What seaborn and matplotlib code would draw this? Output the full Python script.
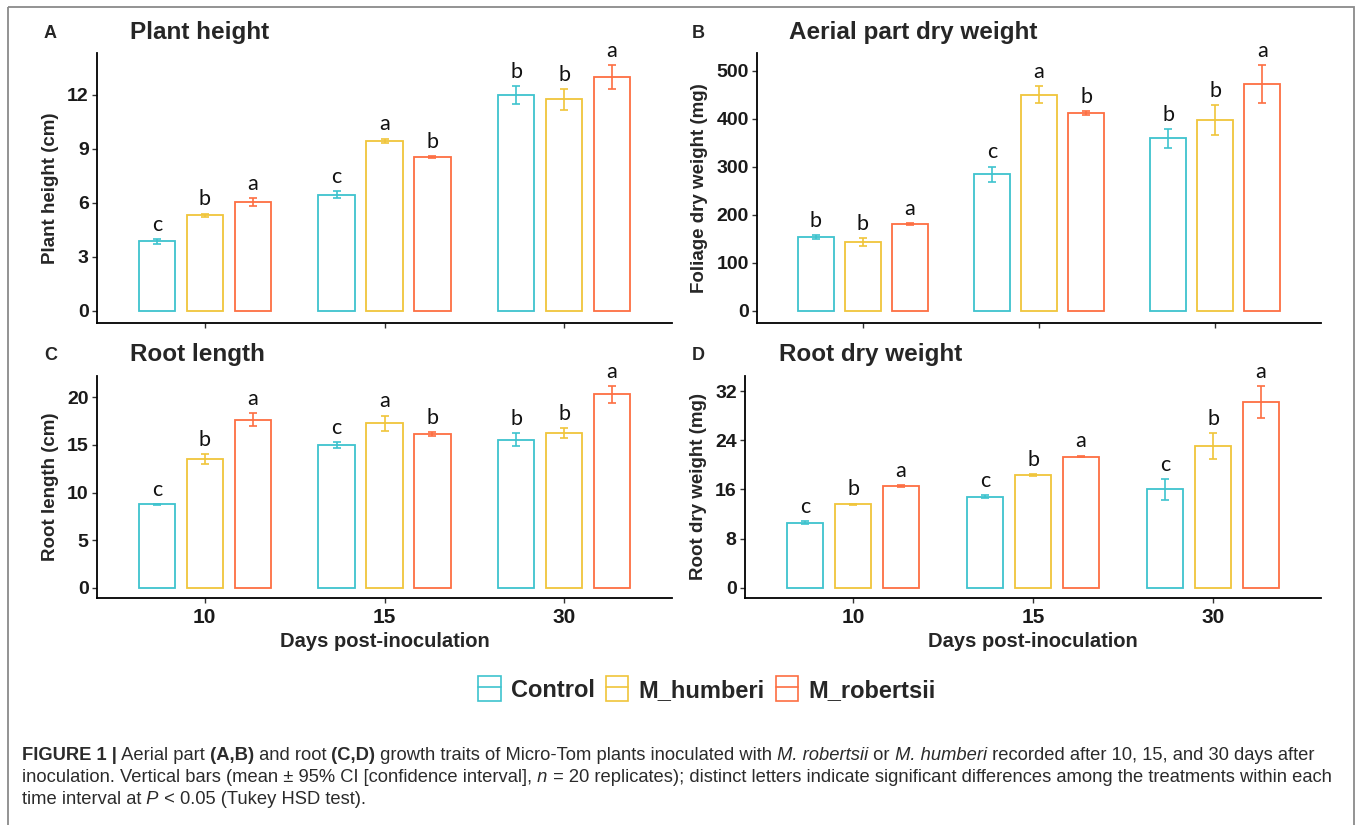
import matplotlib
matplotlib.use("Agg")
import matplotlib.pyplot as plt
from matplotlib.patches import Patch, Rectangle
from matplotlib.lines import Line2D
from matplotlib.legend_handler import HandlerTuple
import seaborn as sns
import pandas as pd

# categories
days = ['10', '15', '30']
groups = ['Control', 'M_humberi', 'M_robertsii']
colors = ['#3EC3CE', '#F0C53A', '#FD6E42']

# rows: Control, M_humberi, M_robertsii / cols: 10, 15, 30 days
height_mean = [[3.85, 6.45, 12.0], [5.3, 9.45, 11.75], [6.05, 8.55, 13.0]]
height_ci = [[0.15, 0.2, 0.5], [0.1, 0.12, 0.58], [0.2, 0.04, 0.65]]
height_letters = [['c', 'c', 'b'], ['b', 'a', 'b'], ['a', 'b', 'a']]

foliage_mean = [[153, 284, 359], [143, 450, 397], [180, 412, 472]]
foliage_ci = [[4, 16, 20], [8.5, 18, 31], [2, 4, 39]]
foliage_letters = [['b', 'c', 'b'], ['b', 'a', 'b'], ['a', 'b', 'a']]

rootlen_mean = [[8.75, 15.0, 15.55], [13.55, 17.25, 16.25], [17.65, 16.15, 20.3]]
rootlen_ci = [[0.08, 0.3, 0.7], [0.5, 0.83, 0.55], [0.7, 0.2, 0.87]]
rootlen_letters = [['c', 'c', 'b'], ['b', 'a', 'b'], ['a', 'b', 'a']]

rootdw_mean = [[10.6, 14.85, 16.0], [13.6, 18.3, 23.0], [16.5, 21.35, 30.2]]
rootdw_ci = [[0.2, 0.2, 1.65], [0.1, 0.15, 2.1], [0.15, 0.15, 2.6]]
rootdw_letters = [['c', 'c', 'c'], ['b', 'b', 'b'], ['a', 'a', 'a']]

height_ticks = [0, 3, 6, 9, 12]
foliage_ticks = [0, 100, 200, 300, 400, 500]
rootlen_ticks = [0, 5, 10, 15, 20]
rootdw_ticks = [0, 8, 16, 24, 32]

sns.set_theme(style='ticks')
plt.rcParams['font.family'] = ['Liberation Sans Narrow', 'Liberation Sans', 'DejaVu Sans']

W, H = 1358, 825
fig = plt.figure(figsize=(W / 100, H / 100), dpi=100)


def px_axes(left, right, top, bottom):
    return fig.add_axes([left / W, 1 - bottom / H, (right - left) / W, (bottom - top) / H])


def to_long(mean, ci, letters):
    rows = []
    for i, g in enumerate(groups):
        for j, d in enumerate(days):
            rows.append({'group': g, 'day': d, 'value': mean[i][j],
                         'ci': ci[i][j], 'letter': letters[i][j]})
    return pd.DataFrame(rows)


def panel(ax, mean, ci, letters, ticks, ylabel, show_x):
    df = to_long(mean, ci, letters)
    sns.barplot(data=df, x='day', y='value', hue='group', order=days,
                hue_order=groups, palette=colors, fill=False, gap=0.24,
                linewidth=1.3, errorbar=None, legend=False, ax=ax)
    bar_conts = list(ax.containers)
    for gi, cont in enumerate(bar_conts):
        for bar in cont.patches:
            xc = bar.get_x() + bar.get_width() / 2
            d = days[int(round(xc))]
            row = df[(df.group == groups[gi]) & (df.day == d)].iloc[0]
            ax.errorbar(xc, bar.get_height(), yerr=row.ci, color=colors[gi],
                        capsize=3.2, elinewidth=1.2, capthick=1.2, fmt='none')
            ax.annotate(row.letter, (xc, row.value + row.ci), xytext=(0, 3),
                        textcoords='offset points', ha='center', va='bottom',
                        fontsize=15.5, family=['Lato', 'DejaVu Sans'],
                        color='#111111', annotation_clip=False)
    top = (df.value + df.ci).max()
    ax.set_ylim(-0.05 * top, 1.05 * top)
    ax.set_xlim(-0.6, 2.6)
    ax.set_yticks(ticks)
    sns.despine(ax=ax)
    for s in ['left', 'bottom']:
        ax.spines[s].set_linewidth(1.3)
        ax.spines[s].set_color('black')
    ax.tick_params(axis='both', length=3.5, width=1.0, color='#333333', pad=2.5)
    ax.tick_params(axis='y', labelsize=14)
    ax.tick_params(axis='x', labelsize=15, pad=4)
    for lab in ax.get_yticklabels() + ax.get_xticklabels():
        lab.set_fontweight('bold')
        lab.set_color('#1a1a1a')
    ax.set_ylabel(ylabel, fontsize=13.5, fontweight='bold', labelpad=6)
    if show_x:
        ax.set_xlabel('Days post-inoculation', fontsize=14.5, fontweight='bold', labelpad=3)
    else:
        ax.set_xlabel('')
        ax.set_xticklabels([])


axA = px_axes(97, 672, 53, 323)
axB = px_axes(757, 1321, 53, 323)
axC = px_axes(97, 672, 376, 598)
axD = px_axes(745, 1321, 376, 598)

panel(axA, height_mean, height_ci, height_letters, height_ticks, 'Plant height (cm)', False)
panel(axB, foliage_mean, foliage_ci, foliage_letters, foliage_ticks, 'Foliage dry weight (mg)', False)
panel(axC, rootlen_mean, rootlen_ci, rootlen_letters, rootlen_ticks, 'Root length (cm)', True)
panel(axD, rootdw_mean, rootdw_ci, rootdw_letters, rootdw_ticks, 'Root dry weight (mg)', True)

# panel tags and titles
tag_font = ['Liberation Sans', 'DejaVu Sans']
for tag, tx, ty in [('A', 44, 34), ('B', 692, 34), ('C', 44, 356), ('D', 692, 356)]:
    fig.text(tx / W, 1 - ty / H, tag, fontsize=13, fontweight='bold', family=tag_font,
             va='center', ha='left')
for title, tx, ty in [('Plant height', 130, 32), ('Aerial part dry weight', 789, 32),
                      ('Root length', 130, 354), ('Root dry weight', 779, 354)]:
    fig.text(tx / W, 1 - ty / H, title, fontsize=17.5, fontweight='bold',
             va='center', ha='left')

# legend
handles = [(Patch(facecolor='none', edgecolor=c, linewidth=1.2),
            Line2D([], [], color=c, linewidth=1.2)) for c in colors]
fig.legend(handles, groups, loc='center', bbox_to_anchor=(707 / W, 1 - 689 / H),
           ncol=3, frameon=False, handler_map={tuple: HandlerTuple(ndivide=1)},
           prop={'family': tag_font, 'weight': 'bold', 'size': 17},
           handlelength=0.95, handleheight=1.25, handletextpad=0.45, columnspacing=0.45)

# caption
cap = fig.add_axes([0, 0, 1, 1])
cap.axis('off')
cap.set_xlim(0, W)
cap.set_ylim(H, 0)
cap.add_patch(Rectangle((8, 7), 1346, 900, fill=False, edgecolor='#8a8a8a',
                        linewidth=1.3, clip_on=False))
caption = [
    [("FIGURE 1 |", 'bold', 'normal'), (" Aerial part", 'normal', 'normal'),
     (" (A,B)", 'bold', 'normal'), (" and root", 'normal', 'normal'),
     (" (C,D)", 'bold', 'normal'),
     (" growth traits of Micro-Tom plants inoculated with", 'normal', 'normal'),
     (" M. robertsii", 'normal', 'italic'), (" or", 'normal', 'normal'),
     (" M. humberi", 'normal', 'italic'),
     (" recorded after 10, 15, and 30 days after", 'normal', 'normal')],
    [("inoculation. Vertical bars (mean \u00b1 95% CI [confidence interval],", 'normal', 'normal'),
     (" n", 'normal', 'italic'),
     (" = 20 replicates); distinct letters indicate significant differences among the treatments within each",
      'normal', 'normal')],
    [("time interval at", 'normal', 'normal'), (" P", 'normal', 'italic'),
     (" < 0.05 (Tukey HSD test).", 'normal', 'normal')],
]
for k, line in enumerate(caption):
    prev = None
    for txt, wt, st in line:
        kw = dict(fontsize=13.2, fontweight=wt, fontstyle=st, family=tag_font,
                  color='#2b2b2b', va='baseline', ha='left')
        if prev is None:
            prev = cap.text(22, 760 + 22 * k, txt, **kw)
        else:
            kw['va'] = 'bottom'
            prev = cap.annotate(txt, xy=(1, 0), xycoords=prev, **kw)

fig.savefig('out.png', dpi=100)
